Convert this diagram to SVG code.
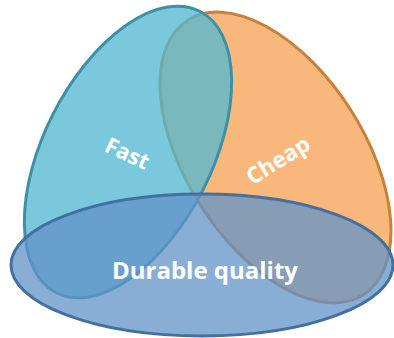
<svg xmlns="http://www.w3.org/2000/svg" width="394" height="338" viewBox="0 0 394 338">
<style>
.lbl{font-family:"Open Sans","Liberation Sans",sans-serif;font-weight:700;fill:#ffffff;text-anchor:middle}
</style>
<rect width="394" height="338" fill="#ffffff"/>
<g id="cheap">
<ellipse cx="275.5" cy="157.5" rx="89" ry="163" transform="rotate(-32.6 275.5 157.5)" fill="#F8B87B" stroke="#C8803A" stroke-width="3"/>
<text class="lbl" font-size="22.5" transform="translate(278 160) rotate(-32)" y="8">Cheap</text>
</g>
<g id="fast">
<ellipse cx="128" cy="152" rx="84" ry="158" transform="rotate(27 128 152)" fill="#52B8D0" fill-opacity="0.77" stroke="#3F90A6" stroke-width="3"/>
<text class="lbl" font-size="22" transform="translate(127 154) rotate(25)" y="7">Fast</text>
</g>
<g id="durable">
<ellipse cx="202" cy="265" rx="191" ry="71" fill="#6293C8" fill-opacity="0.75" stroke="#43709F" stroke-width="3"/>
<text class="lbl" font-size="24" x="205" y="279">Durable quality</text>
</g>
<g id="connectors"/>
</svg>
